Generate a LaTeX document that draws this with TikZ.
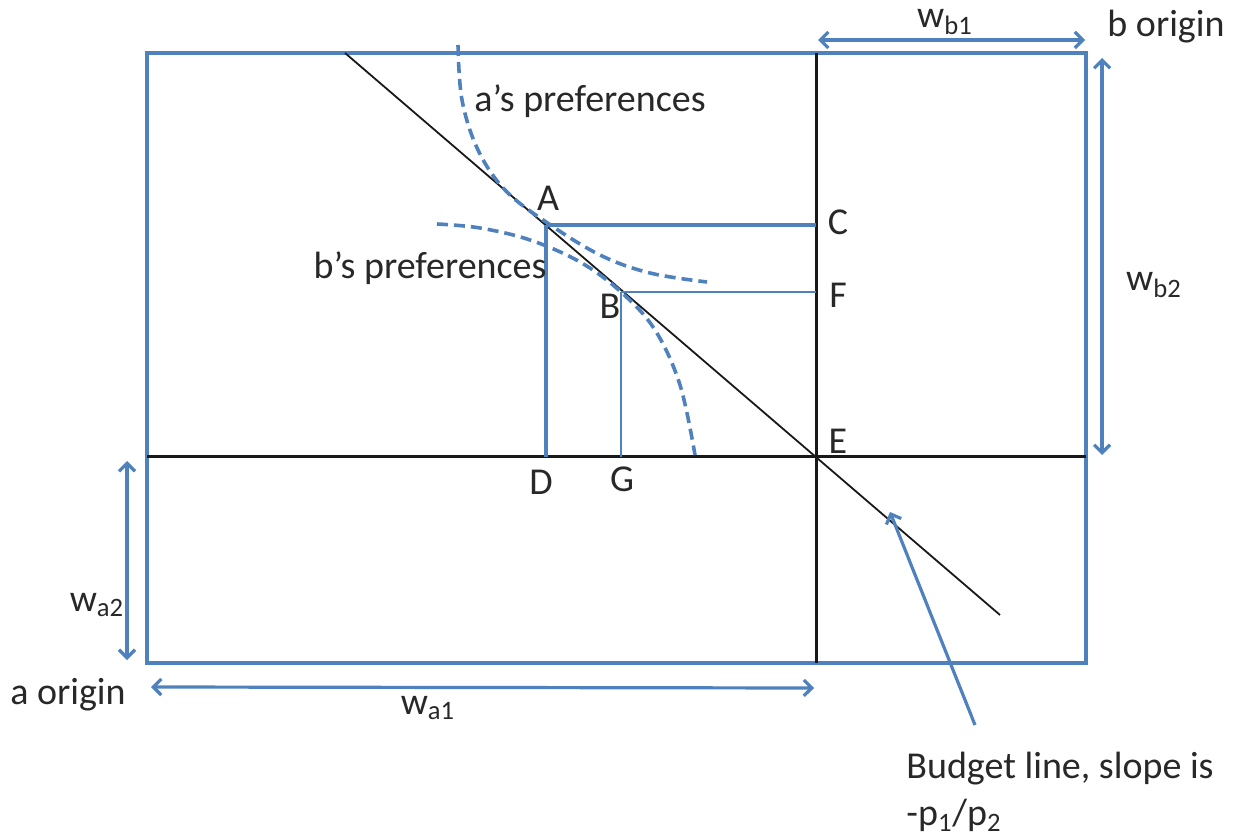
\documentclass[tikz,border=0pt]{standalone}
\usepackage{fontspec}
\setmainfont{Carlito}
\usepackage{tikz}
\usetikzlibrary{arrows.meta, calc}
\definecolor{clrBl}{RGB}{ 79,129,189}
\definecolor{clrTx}{RGB}{ 40, 40, 40}
\definecolor{clrLn}{RGB}{ 25, 25, 25}
\tikzset{
  boxln/.style={draw=clrBl, line width=1.8pt},
  axisln/.style={draw=clrLn, line width=1.5pt},
  budln/.style={draw=clrLn, line width=0.9pt},
  projA/.style={draw=clrBl, line width=2.2pt},
  projB/.style={draw=clrBl, line width=1.1pt},
  prefln/.style={draw=clrBl, line width=1.8pt, dash pattern=on 5.5pt off 3pt},
  dimarr/.style={{Straight Barb[length=4pt,width=8pt]}-{Straight Barb[length=4pt,width=8pt]},
    draw=clrBl, line width=1.6pt},
  ptrarr/.style={-{Straight Barb[length=4pt,width=8pt]}, draw=clrBl, line width=1.6pt},
  lbl/.style={font=\fontsize{19}{23.5}\selectfont, text=clrTx, inner sep=0pt},
}

\begin{document}
\begin{tikzpicture}[x=0.5pt, y=-0.5pt]
\useasboundingbox (0,0) rectangle (1240,838);
% edgeworth box corners and points
\coordinate (ao) at (147,663);
\coordinate (bo) at (1086,53);
\coordinate (E) at (816,457);
\coordinate (A) at (546,225);
\coordinate (B) at (621,292);
\coordinate (C) at (E |- A);
\coordinate (F) at (E |- B);
\coordinate (D) at (A |- E);
\coordinate (G) at (B |- E);
\coordinate (bl1) at (345,53);
\coordinate (bl2) at (1000,615);
\draw[boxln] (ao) rectangle (bo);
\draw[axisln] (E |- bo) -- (E |- ao);
\draw[axisln] (E -| ao) -- (E -| bo);
\draw[budln] (bl1) -- (bl2);
\draw[projA] (A) -- (C);
\draw[projA] (A) -- (D);
\draw[projB] (B) -- (F);
\draw[projB] (B) -- (G);
% indifference curves
\draw[prefln] plot[smooth, tension=0.6] coordinates {(458,45) (462,100) (478,150) (505,190) (546,222) (600,255) (650,273) (707,282)};
\draw[prefln] plot[smooth, tension=0.6] coordinates {(437,224) (480,228) (530,240) (580,262) (621,292) (655,330) (680,385) (695,455)};
\node[lbl] (aPref) at (590,101) {a’s preferences};
\node[lbl] (bPref) at (430,268) {b’s preferences};
\node[lbl] (lA) at (548,198) {A};
\node[lbl] (lB) at (610,306) {B};
\node[lbl] (lC) at (838,222) {C};
\node[lbl] (lF) at (838,295) {F};
\node[lbl] (lD) at (541,482) {D};
\node[lbl] (lG) at (622,479) {G};
\node[lbl] (lE) at (838,441) {E};
% endowments
\coordinate (wb1s) at (818,40);
\coordinate (wb1e) at (1085,40);
\coordinate (wb2s) at (1102,58);
\coordinate (wb2e) at (1102,455);
\coordinate (wa1s) at (151,687);
\coordinate (wa1e) at (814,688);
\coordinate (wa2s) at (127,461);
\coordinate (wa2e) at (127,660);
\draw[dimarr] (wb1s) -- (wb1e);
\draw[dimarr] (wb2s) -- (wb2e);
\draw[dimarr] (wa1s) -- (wa1e);
\draw[dimarr] (wa2s) -- (wa2e);
\node[lbl] (lwb1) at (945,22) {w\textsubscript{b1}};
\node[lbl] (lwb2) at (1154,285) {w\textsubscript{b2}};
\node[lbl] (lwa1) at (428,708) {w\textsubscript{a1}};
\node[lbl] (lwa2) at (97,605) {w\textsubscript{a2}};
\node[lbl] (bOrig) at (1166,27) {b origin};
\node[lbl] (aOrig) at (68,695) {a origin};
% budget line note
\node[lbl, anchor=north west, align=left] (budget) at (906,752)
  {Budget line, slope is\\-p\textsubscript{1}/p\textsubscript{2}};
\coordinate (ptrtail) at (975,725);
\coordinate (ptrhead) at (890,512);
\draw[ptrarr] (ptrtail) -- (ptrhead);
\end{tikzpicture}
\end{document}
